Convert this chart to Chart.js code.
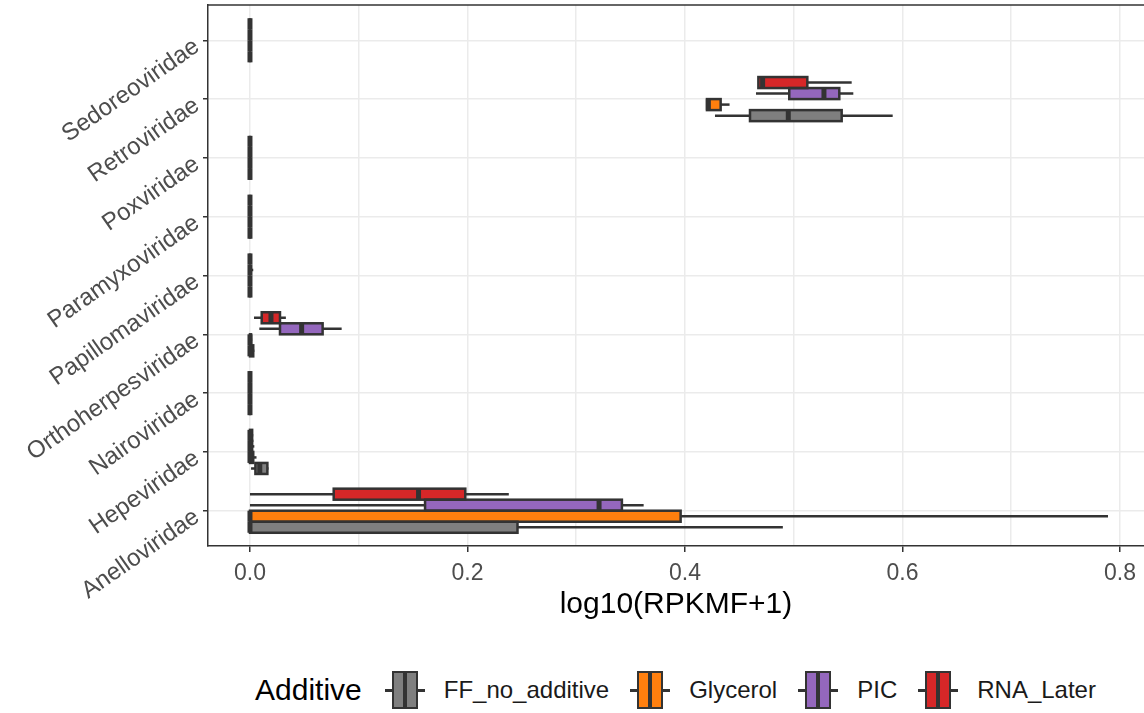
<!DOCTYPE html>
<html>
<head>
<meta charset="utf-8">
<script src="https://cdn.jsdelivr.net/npm/chart.js@4.4.1/dist/chart.umd.min.js"></script>
<style>
  body { margin: 0; background: #fff; overflow: hidden; font-family: "Liberation Sans", Arial, sans-serif; }
  #wrap { position: relative; width: 1144px; height: 713px; }
  #chart { position: absolute; left: 0; top: 0; }
  .legend { position: absolute; left: 255px; top: 670px; height: 40px; display: flex; align-items: center; white-space: nowrap; }
  .legend-title { font-size: 30px; color: #000; margin-right: 23px; }
  .key { position: relative; width: 40px; height: 40px; margin-right: 19px; }
  .key .whisker { position: absolute; left: 0; right: 0; top: 19px; height: 2.5px; background: #333; }
  .key .box { position: absolute; left: 7px; width: 26px; top: 1px; height: 38px; box-sizing: border-box; border: 2.5px solid #333; }
  .key .median { position: absolute; left: 18px; width: 4px; top: 1px; height: 38px; background: #333; }
  .label { font-size: 24px; color: #1a1a1a; margin-right: 21px; }
</style>
</head>
<body>
<div id="wrap">
  <canvas id="chart" width="1144" height="630"></canvas>
  <div class="legend" id="legend"><span class="legend-title">Additive</span></div>
</div>
<script>
const categories = ["Anelloviridae", "Hepeviridae", "Nairoviridae", "Orthoherpesviridae", "Papillomaviridae",
  "Paramyxoviridae", "Poxviridae", "Retroviridae", "Sedoreoviridae"];

// five-number summaries per category: [lower whisker, q1, median, q3, upper whisker]
const ffNoAdditive = [
  [0, 0, 0, 0.246, 0.490],
  [0.001, 0.005, 0.009, 0.016, 0.017],
  [0, 0, 0, 0, 0],
  [0, 0, 0, 0.003, 0.004],
  [0, 0, 0, 0, 0],
  [0, 0, 0, 0, 0],
  [0, 0, 0, 0, 0],
  [0.4276, 0.4598, 0.495, 0.5441, 0.591],
  [0, 0, 0, 0, 0],
];
const glycerol = [
  [0, 0, 0, 0.396, 0.789],
  [0, 0, 0, 0.003, 0.006],
  [0, 0, 0, 0, 0],
  [0, 0, 0, 0.001, 0.002],
  [0, 0, 0, 0, 0],
  [0, 0, 0, 0, 0],
  [0, 0, 0, 0, 0],
  [0.4202, 0.4202, 0.4215, 0.4328, 0.441],
  [0, 0, 0, 0, 0],
];
const pic = [
  [0, 0.161, 0.321, 0.342, 0.362],
  [0, 0, 0, 0.002, 0.004],
  [0, 0, 0, 0, 0],
  [0.0086, 0.0276, 0.0475, 0.0668, 0.0843],
  [0, 0, 0, 0, 0.003],
  [0, 0, 0, 0, 0],
  [0, 0, 0, 0, 0],
  [0.4653, 0.4959, 0.5278, 0.5419, 0.5548],
  [0, 0, 0, 0, 0],
];
const rnaLater = [
  [0, 0.077, 0.155, 0.198, 0.238],
  [0, 0, 0, 0.002, 0.003],
  [0, 0, 0, 0, 0],
  [0.0037, 0.0108, 0.0193, 0.0276, 0.033],
  [0, 0, 0, 0, 0],
  [0, 0, 0, 0, 0],
  [0, 0, 0, 0, 0],
  [0.4675, 0.4675, 0.4714, 0.5125, 0.5533],
  [0, 0, 0, 0, 0],
];

const seriesNames = ["FF_no_additive", "Glycerol", "PIC", "RNA_Later"];
const seriesData = [ffNoAdditive, glycerol, pic, rnaLater];
const seriesColors = ["#7F7F7F", "#FF7F0E", "#9467BD", "#D62728"];

const xTickValues = [0, 0.1, 0.2, 0.3, 0.4, 0.5, 0.6, 0.7, 0.8];
const xTickLabels = ["0.0", "", "0.2", "", "0.4", "", "0.6", "", "0.8"];

const INK = "#333333";
Chart.defaults.font.family = '"Liberation Sans", Arial, sans-serif';

const boxWhiskers = {
  id: "boxWhiskers",
  afterDatasetsDraw(chart) {
    const { ctx, chartArea, scales } = chart;
    const px = (v) => scales.x.getPixelForValue(v);
    ctx.save();
    ctx.beginPath();
    ctx.rect(chartArea.left, chartArea.top, chartArea.right - chartArea.left, chartArea.bottom - chartArea.top);
    ctx.clip();
    ctx.strokeStyle = INK;
    chart.data.datasets.forEach((ds, di) => {
      chart.getDatasetMeta(di).data.forEach((bar, i) => {
        const [lo, q1, med, q3, hi] = ds.stats[i];
        const top = bar.y - bar.height / 2;
        ctx.lineWidth = 2.5;
        ctx.beginPath();
        ctx.moveTo(px(lo), bar.y);
        ctx.lineTo(px(q1), bar.y);
        ctx.moveTo(px(q3), bar.y);
        ctx.lineTo(px(hi), bar.y);
        ctx.stroke();
        ctx.strokeRect(px(q1), top, px(q3) - px(q1), bar.height);
        ctx.lineWidth = 5;
        ctx.beginPath();
        ctx.moveTo(px(med), top);
        ctx.lineTo(px(med), top + bar.height);
        ctx.stroke();
      });
    });
    ctx.restore();
  },
  afterDraw(chart) {
    const { ctx, chartArea } = chart;
    ctx.save();
    ctx.strokeStyle = INK;
    ctx.lineWidth = 1.5;
    ctx.beginPath();
    ctx.moveTo(chartArea.left, chartArea.top);
    ctx.lineTo(chartArea.right, chartArea.top);
    ctx.stroke();
    ctx.restore();
  },
};

// top of the dodge group is drawn first, so RNA_Later goes first
const order = [3, 2, 1, 0];
const datasets = order.map((s) => ({
  label: seriesNames[s],
  data: seriesData[s].map((st, i) => ({ y: i + 1, x: [st[1], st[3]] })),
  stats: seriesData[s],
  backgroundColor: seriesColors[s],
  borderWidth: 0,
  categoryPercentage: 0.75,
  barPercentage: 1,
}));

new Chart(document.getElementById("chart"), {
  type: "bar",
  data: { datasets },
  plugins: [boxWhiskers],
  options: {
    indexAxis: "y",
    responsive: false,
    animation: false,
    layout: { padding: { top: 5, left: 0, right: 0, bottom: 0 } },
    plugins: { legend: { display: false }, tooltip: { enabled: false } },
    scales: {
      x: {
        type: "linear",
        min: -0.0386,
        max: 0.8221,
        afterBuildTicks: (s) => { s.ticks = xTickValues.map((v) => ({ value: v })); },
        afterFit: (s) => { s.height = 84; },
        ticks: {
          autoSkip: false,
          maxRotation: 0,
          padding: 8,
          color: "#4D4D4D",
          font: { size: 23 },
          callback: (v, i) => xTickLabels[i],
        },
        grid: {
          color: "#EBEBEB",
          lineWidth: 1.5,
          tickLength: 6,
          tickWidth: 1.5,
          tickColor: (c) => (c.index % 2 === 0 ? INK : "rgba(0,0,0,0)"),
        },
        border: { color: INK, width: 1.5 },
        title: {
          display: true,
          text: "log10(RPKMF+1)",
          color: "#000",
          font: { size: 30 },
          padding: { top: 0, bottom: 7 },
        },
      },
      y: {
        type: "linear",
        min: 0.4,
        max: 9.6,
        offset: false,
        afterBuildTicks: (s) => { s.ticks = categories.map((c, i) => ({ value: i + 1 })); },
        afterFit: (s) => { s.width = 208; s.paddingTop = 0; s.paddingBottom = 0; },
        ticks: {
          minRotation: 35,
          maxRotation: 35,
          padding: 6,
          labelOffset: 4,
          color: "#4D4D4D",
          font: { size: 24 },
          callback: (v) => categories[Math.round(v) - 1],
        },
        grid: { offset: false, color: "#EBEBEB", lineWidth: 1.5, tickLength: 5, tickWidth: 1.5, tickColor: INK },
        border: { color: INK, width: 1.5 },
      },
    },
  },
});

const legend = document.getElementById("legend");
seriesNames.forEach((name, s) => {
  const key = document.createElement("div");
  key.className = "key";
  key.innerHTML = `<span class="whisker"></span><span class="box" style="background:${seriesColors[s]}"></span><span class="median"></span>`;
  const label = document.createElement("span");
  label.className = "label";
  label.textContent = name;
  legend.appendChild(key);
  legend.appendChild(label);
});
</script>
</body>
</html>
